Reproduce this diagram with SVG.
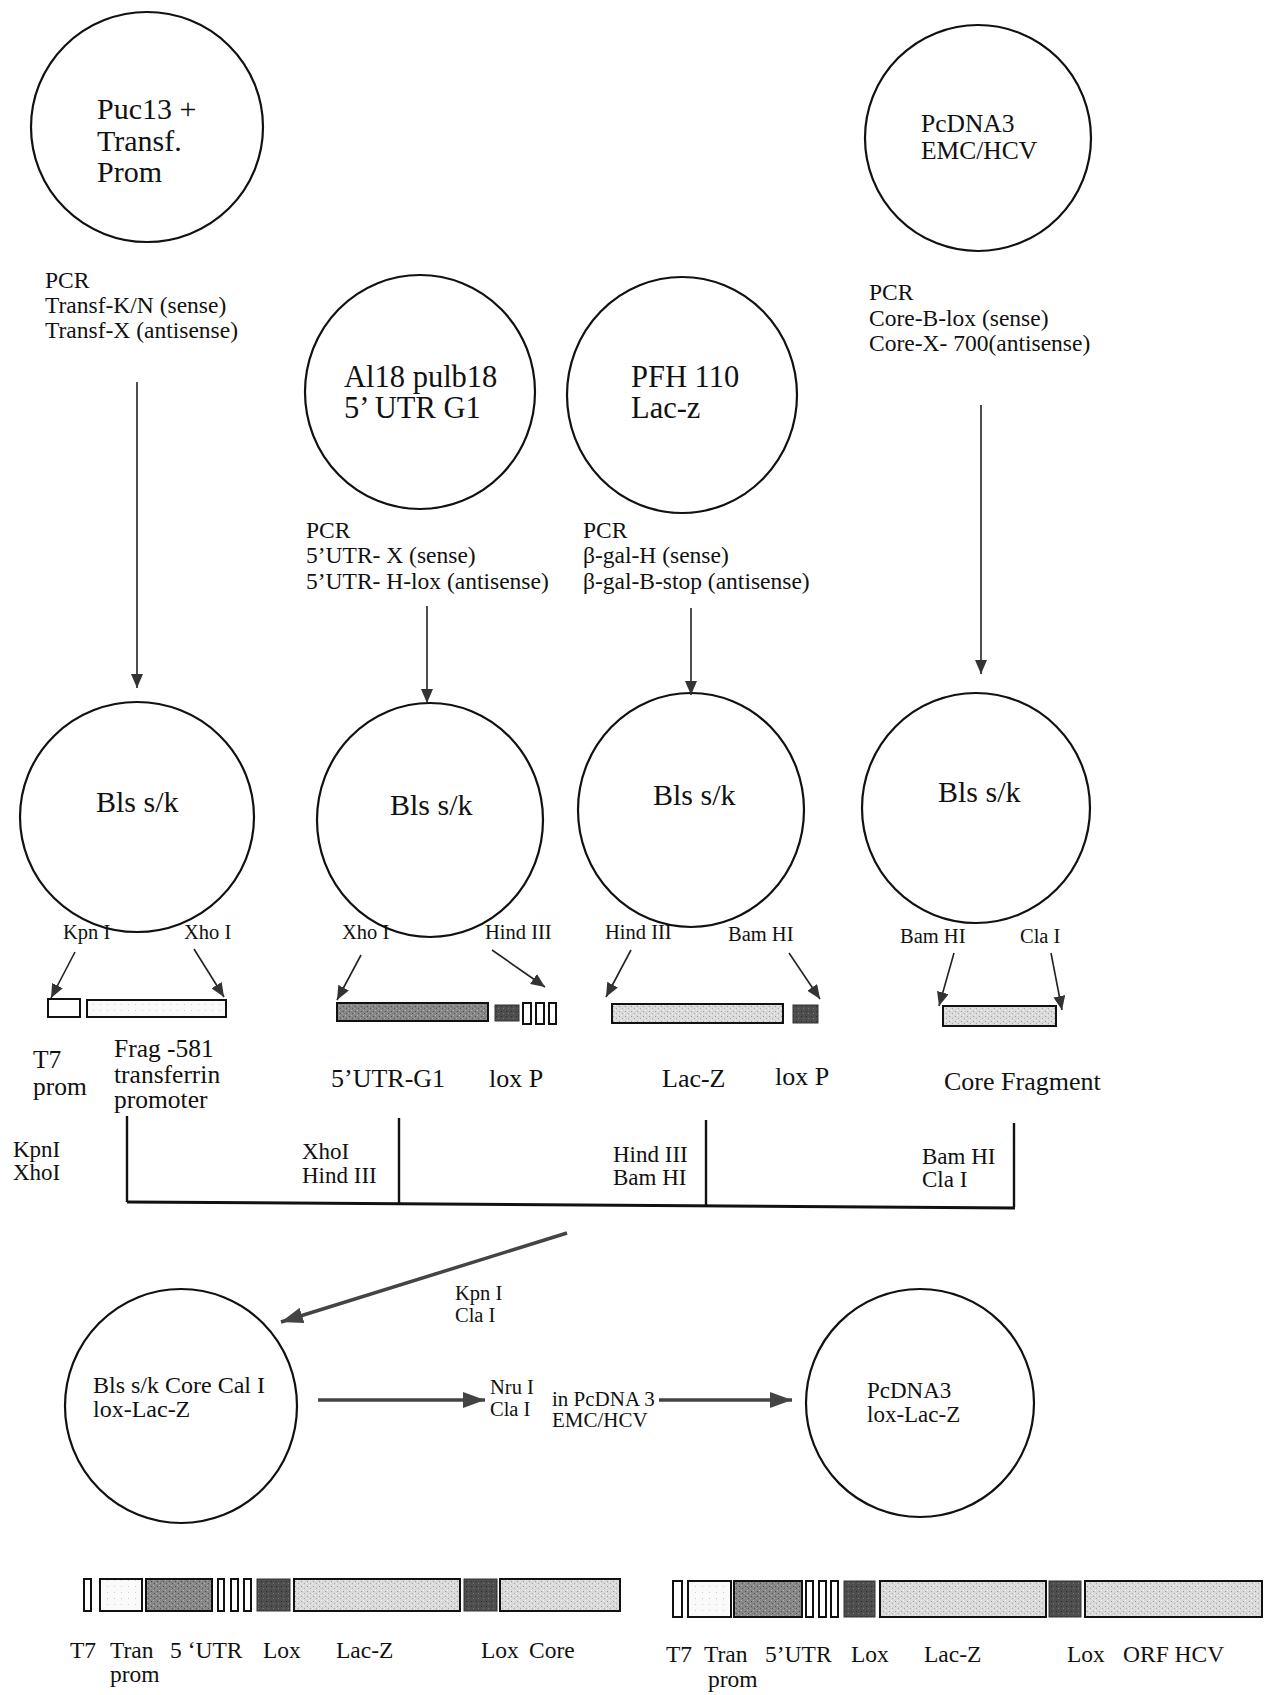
<svg xmlns="http://www.w3.org/2000/svg" width="1266" height="1695" viewBox="0 0 1266 1695">
<style>
text{font-family:"Liberation Serif","Times New Roman",serif;fill:#111}
.c{fill:none;stroke:#111;stroke-width:2.2}
.t30{font-size:30px}.t31{font-size:30.5px}.t26{font-size:26px}.t25{font-size:25.5px}.t24{font-size:24px}.t235{font-size:23.5px}.t23{font-size:23px}.t20{font-size:20.5px}.t21{font-size:21px}
.ln{stroke:#222;stroke-width:1.6;fill:none}
.lnb{stroke:#444;stroke-width:3.5;fill:none}
.br{stroke:#111;stroke-width:2.4;fill:none}
.bw{fill:#fff;stroke:#111;stroke-width:2}
.bf{fill:url(#stF);stroke:#111;stroke-width:2}
.bm{fill:url(#stM);stroke:#111;stroke-width:2}
.bd{fill:url(#stD);stroke:#333;stroke-width:1}
.bl{fill:url(#stL);stroke:#111;stroke-width:2}
</style>
<defs>
<marker id="ah" markerUnits="userSpaceOnUse" markerWidth="14" markerHeight="12" refX="14" refY="6" orient="auto"><path d="M0,0 L14,6 L0,12 z" fill="#333"/></marker>
<marker id="ahb" markerUnits="userSpaceOnUse" markerWidth="22" markerHeight="16" refX="22" refY="8" orient="auto"><path d="M0,0 L22,8 L0,16 z" fill="#444"/></marker>
<pattern id="stL" width="6" height="5" patternUnits="userSpaceOnUse"><rect width="6" height="5" fill="#dadada"/><rect x="1" y="1" width="1" height="1" fill="#9a9a9a"/><rect x="4" y="3" width="1" height="1" fill="#a8a8a8"/><rect x="3" y="0" width="1" height="1" fill="#f5f5f5"/><rect x="0" y="3" width="1" height="1" fill="#f0f0f0"/></pattern>
<pattern id="stM" width="6" height="5" patternUnits="userSpaceOnUse"><rect width="6" height="5" fill="#878787"/><rect x="1" y="1" width="1" height="1" fill="#4c4c4c"/><rect x="4" y="3" width="1" height="1" fill="#555"/><rect x="3" y="0" width="1" height="1" fill="#b5b5b5"/><rect x="0" y="3" width="1" height="1" fill="#aaa"/></pattern>
<pattern id="stD" width="5" height="5" patternUnits="userSpaceOnUse"><rect width="5" height="5" fill="#4e4e4e"/><rect x="1" y="1" width="1" height="1" fill="#2a2a2a"/><rect x="3" y="3" width="1" height="1" fill="#777"/></pattern>
<pattern id="stF" width="7" height="6" patternUnits="userSpaceOnUse"><rect width="7" height="6" fill="#fafafa"/><rect x="2" y="2" width="1" height="1" fill="#ccc"/></pattern>
</defs>
<rect width="1266" height="1695" fill="#fff"/>

<g id="puc13">
<ellipse class="c" cx="147" cy="127" rx="116" ry="115"/>
<text class="t30" x="97" y="119">Puc13 +</text>
<text class="t30" x="97" y="151">Transf.</text>
<text class="t30" x="97" y="182">Prom</text>
</g>
<g id="pcdna3-emc">
<ellipse class="c" cx="978" cy="138" rx="113" ry="113"/>
<text class="t25" x="921" y="132">PcDNA3</text>
<text class="t25" x="921" y="159">EMC/HCV</text>
</g>
<g id="pcr1">
<text class="t235" x="45" y="288">PCR</text>
<text class="t235" x="45" y="313">Transf-K/N (sense)</text>
<text class="t235" x="45" y="338">Transf-X (antisense)</text>
</g>
<g id="pcr4">
<text class="t235" x="869" y="300">PCR</text>
<text class="t235" x="869" y="326">Core-B-lox (sense)</text>
<text class="t235" x="869" y="351">Core-X- 700(antisense)</text>
</g>
<g id="al18">
<ellipse class="c" cx="420" cy="392" rx="115" ry="117"/>
<text class="t31" x="344" y="387">Al18 pulb18</text>
<text class="t31" x="344" y="418">5’ UTR G1</text>
</g>
<g id="pfh110">
<ellipse class="c" cx="682" cy="395" rx="115" ry="118"/>
<text class="t31" x="631" y="387">PFH 110</text>
<text class="t31" x="631" y="418">Lac-z</text>
</g>
<g id="pcr2">
<text class="t235" x="306" y="538">PCR</text>
<text class="t235" x="306" y="563">5’UTR- X (sense)</text>
<text class="t235" x="306" y="589">5’UTR- H-lox (antisense)</text>
</g>
<g id="pcr3">
<text class="t235" x="583" y="538">PCR</text>
<text class="t235" x="583" y="563">β-gal-H (sense)</text>
<text class="t235" x="583" y="589">β-gal-B-stop (antisense)</text>
</g>

<g id="bls1">
<ellipse class="c" cx="137" cy="817" rx="117" ry="115"/>
<text class="t30" x="96" y="812">Bls s/k</text>
<text class="t20" x="63" y="939">Kpn I</text>
<text class="t20" x="184" y="939">Xho I</text>
</g>
<g id="bls2">
<ellipse class="c" cx="430" cy="820" rx="113" ry="117"/>
<text class="t30" x="390" y="815">Bls s/k</text>
<text class="t20" x="342" y="939">Xho I</text>
<text class="t20" x="485" y="939">Hind III</text>
</g>
<g id="bls3">
<ellipse class="c" cx="691" cy="810" rx="113" ry="117"/>
<text class="t30" x="653" y="805">Bls s/k</text>
<text class="t20" x="605" y="939">Hind III</text>
<text class="t20" x="728" y="941">Bam HI</text>
</g>
<g id="bls4">
<ellipse class="c" cx="976" cy="808" rx="114" ry="115"/>
<text class="t30" x="938" y="802">Bls s/k</text>
<text class="t20" x="900" y="943">Bam HI</text>
<text class="t20" x="1020" y="943">Cla I</text>
</g>

<g id="frag-transferrin">
<rect class="bw" x="48" y="999" width="32" height="18"/>
<rect class="bf" x="87" y="1000" width="139" height="17"/>
<text class="t25" x="33" y="1068">T7</text>
<text class="t25" x="33" y="1095">prom</text>
<text class="t25" x="114" y="1057">Frag -581</text>
<text class="t25" x="114" y="1083">transferrin</text>
<text class="t25" x="114" y="1108">promoter</text>
</g>
<g id="frag-5utr">
<rect class="bm" x="337" y="1003" width="151" height="18"/>
<rect class="bd" x="495" y="1005" width="24" height="16"/>
<rect class="bw" x="523" y="1003" width="8" height="21"/>
<rect class="bw" x="536" y="1003" width="8" height="21"/>
<rect class="bw" x="549" y="1003" width="7" height="21"/>
<text class="t26" x="331" y="1087">5’UTR-G1</text>
<text class="t26" x="489" y="1087">lox P</text>
</g>
<g id="frag-lacz">
<rect class="bl" x="612" y="1004" width="171" height="19"/>
<rect class="bd" x="793" y="1005" width="25" height="18"/>
<text class="t26" x="662" y="1087">Lac-Z</text>
<text class="t26" x="775" y="1085">lox P</text>
</g>
<g id="frag-core">
<rect class="bl" x="943" y="1006" width="113" height="20"/>
<text class="t26" x="944" y="1090">Core Fragment</text>
</g>

<g id="ligation-labels">
<text class="t23" x="13" y="1157">KpnI</text>
<text class="t23" x="13" y="1180">XhoI</text>
<text class="t23" x="302" y="1159">XhoI</text>
<text class="t23" x="302" y="1183">Hind III</text>
<text class="t23" x="613" y="1162">Hind III</text>
<text class="t23" x="613" y="1185">Bam HI</text>
<text class="t23" x="922" y="1164">Bam HI</text>
<text class="t23" x="922" y="1187">Cla I</text>
<text class="t20" x="455" y="1300">Kpn I</text>
<text class="t20" x="455" y="1322">Cla I</text>
</g>

<g id="bls-core">
<ellipse class="c" cx="181" cy="1406" rx="116" ry="117"/>
<text class="t24" x="93" y="1393">Bls s/k Core Cal I</text>
<text class="t24" x="93" y="1417">lox-Lac-Z</text>
</g>
<g id="nru-cla">
<text class="t20" x="490" y="1394">Nru I</text>
<text class="t20" x="490" y="1416">Cla I</text>
<text class="t21" x="552" y="1406">in PcDNA 3</text>
<text class="t21" x="552" y="1427">EMC/HCV</text>
</g>
<g id="pcdna3-lox">
<ellipse class="c" cx="920" cy="1403" rx="114" ry="114"/>
<text class="t23" x="867" y="1398">PcDNA3</text>
<text class="t23" x="867" y="1422">lox-Lac-Z</text>
</g>

<g id="construct-1">
<rect class="bw" x="84" y="1579" width="7" height="32"/>
<rect class="bf" x="100" y="1579" width="42" height="32"/>
<rect class="bm" x="146" y="1579" width="66" height="32"/>
<rect class="bw" x="218" y="1579" width="6" height="32"/>
<rect class="bw" x="231" y="1579" width="7" height="32"/>
<rect class="bw" x="244" y="1579" width="7" height="32"/>
<rect class="bd" x="257" y="1579" width="33" height="32"/>
<rect class="bl" x="294" y="1579" width="166" height="32"/>
<rect class="bd" x="464" y="1579" width="33" height="32"/>
<rect class="bl" x="500" y="1579" width="120" height="32"/>
<text class="t235" x="70" y="1658">T7</text>
<text class="t235" x="110" y="1658">Tran</text>
<text class="t235" x="110" y="1682">prom</text>
<text class="t235" x="170" y="1658">5 ‘UTR</text>
<text class="t235" x="263" y="1658">Lox</text>
<text class="t235" x="336" y="1658">Lac-Z</text>
<text class="t235" x="481" y="1658">Lox</text>
<text class="t235" x="529" y="1658">Core</text>
</g>
<g id="construct-2">
<rect class="bw" x="673" y="1581" width="9" height="36"/>
<rect class="bf" x="688" y="1581" width="43" height="36"/>
<rect class="bm" x="734" y="1581" width="68" height="36"/>
<rect class="bw" x="806" y="1581" width="7" height="36"/>
<rect class="bw" x="819" y="1581" width="7" height="36"/>
<rect class="bw" x="831" y="1581" width="7" height="36"/>
<rect class="bd" x="844" y="1581" width="31" height="36"/>
<rect class="bl" x="880" y="1581" width="166" height="36"/>
<rect class="bd" x="1049" y="1581" width="32" height="36"/>
<rect class="bl" x="1085" y="1581" width="177" height="36"/>
<text class="t235" x="666" y="1662">T7</text>
<text class="t235" x="704" y="1662">Tran</text>
<text class="t235" x="708" y="1687">prom</text>
<text class="t235" x="765" y="1662">5’UTR</text>
<text class="t235" x="851" y="1662">Lox</text>
<text class="t235" x="924" y="1662">Lac-Z</text>
<text class="t235" x="1067" y="1662">Lox</text>
<text class="t235" x="1123" y="1662">ORF HCV</text>
</g>

<g id="connectors">
<line class="ln" x1="137" y1="382" x2="137" y2="688" marker-end="url(#ah)"/>
<line class="ln" x1="427" y1="606" x2="427" y2="703" marker-end="url(#ah)"/>
<line class="ln" x1="691" y1="608" x2="691" y2="695" marker-end="url(#ah)"/>
<line class="ln" x1="981" y1="405" x2="981" y2="674" marker-end="url(#ah)"/>
<line class="ln" x1="75" y1="952" x2="51" y2="998" marker-end="url(#ah)"/>
<line class="ln" x1="194" y1="949" x2="224" y2="997" marker-end="url(#ah)"/>
<line class="ln" x1="361" y1="955" x2="337" y2="1000" marker-end="url(#ah)"/>
<line class="ln" x1="492" y1="950" x2="545" y2="987" marker-end="url(#ah)"/>
<line class="ln" x1="631" y1="950" x2="606" y2="997" marker-end="url(#ah)"/>
<line class="ln" x1="789" y1="953" x2="820" y2="999" marker-end="url(#ah)"/>
<line class="ln" x1="954" y1="953" x2="939" y2="1006" marker-end="url(#ah)"/>
<line class="ln" x1="1051" y1="953" x2="1062" y2="1010" marker-end="url(#ah)"/>
<line class="br" x1="127" y1="1116" x2="127" y2="1202"/>
<line class="br" x1="399" y1="1118" x2="399" y2="1203"/>
<line class="br" x1="706" y1="1120" x2="706" y2="1205"/>
<line class="br" x1="1014" y1="1123" x2="1014" y2="1207"/>
<line class="br" x1="127" y1="1202" x2="1015" y2="1208" style="stroke-width:3"/>
<line class="lnb" x1="567" y1="1233" x2="281" y2="1322" marker-end="url(#ahb)"/>
<line class="lnb" x1="318" y1="1400" x2="485" y2="1400" marker-end="url(#ahb)"/>
<line class="lnb" x1="659" y1="1400" x2="792" y2="1400" marker-end="url(#ahb)"/>
</g>
</svg>
